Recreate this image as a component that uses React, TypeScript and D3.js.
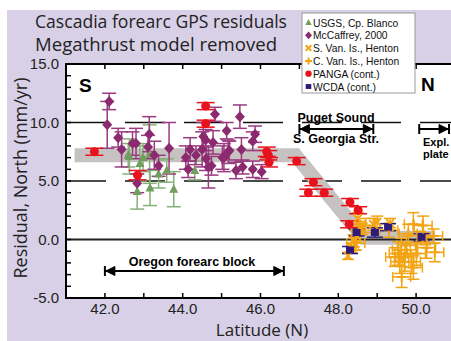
import React from "react";
import { scaleLinear, line, range } from "d3";

// [lat, residual, err]
const usgs = [
  [42.6, 7.2, 1.0], [42.63, 7.1, 1.5], [42.9, 6.5, 1.5], [42.98, 7.0, 1.2],
  [43.15, 7.3, 2.5], [42.83, 4.1, 1.5], [43.16, 4.4, 1.5], [43.38, 5.6, 1.2],
  [43.59, 5.9, 1.0], [43.77, 4.3, 1.5], [44.31, 5.9, 0.8],
];
const mccaffrey = [
  [42.11, 11.8, 0.7], [42.06, 9.8, 2.0], [42.34, 8.7, 0.8], [42.43, 7.7, 1.5],
  [42.71, 8.2, 1.0], [42.8, 8.2, 1.3], [42.83, 4.8, 0.8], [43.14, 9.0, 1.5],
  [43.11, 7.9, 1.0], [43.27, 7.2, 1.2], [43.38, 6.3, 0.9], [43.65, 7.8, 2.2],
  [44.08, 7.0, 1.0], [44.14, 6.0, 0.7], [44.19, 7.7, 1.0], [44.34, 7.2, 0.8],
  [44.5, 7.7, 1.5], [44.53, 8.8, 1.2], [44.59, 8.5, 0.9], [44.6, 6.9, 1.0],
  [44.66, 6.2, 1.8], [44.74, 6.3, 0.8], [44.78, 8.3, 1.0], [44.83, 10.7, 0.6],
  [45.02, 7.0, 1.0], [45.06, 7.0, 1.2], [45.13, 9.3, 0.7], [45.17, 7.5, 1.0],
  [45.2, 7.6, 0.8], [45.37, 5.9, 0.7], [45.47, 10.5, 1.0], [45.51, 7.7, 1.0],
  [45.54, 6.2, 0.6], [45.8, 6.0, 0.7], [45.8, 8.4, 0.8], [45.86, 9.0, 0.7],
  [46.03, 5.8, 0.6],
];
const sVanIs = [
  [48.25, -1.4, 0.3], [48.34, -0.7, 0.4], [48.39, -0.1, 0.5], [48.43, -0.4, 0.5],
  [48.43, 0.6, 0.5], [48.47, 0.3, 0.4], [48.5, 1.8, 0.5], [48.56, 1.05, 0.5],
  [48.6, 0.9, 0.5], [48.9, 1.3, 0.5], [49.0, 1.5, 0.5], [49.33, 1.4, 0.4],
  [50.1, 0.2, 0.5], [50.23, 0.05, 0.5],
];
const cVanIs = [
  [48.45, -0.3, 0.6], [48.7, 1.2, 0.6], [49.3, 0.8, 0.6], [49.45, -1.5, 0.8],
  [49.54, -1.2, 1.0], [49.58, -1.9, 1.0], [49.62, -0.9, 1.0], [49.63, -3.2, 0.9],
  [49.71, -1.5, 1.2], [49.75, -0.5, 0.8], [49.8, 0.5, 0.8], [49.88, -1.9, 1.0],
  [49.93, 1.3, 1.0], [49.93, -2.4, 1.0], [50.01, -1.2, 1.0], [50.18, 1.2, 0.8],
  [50.27, -0.7, 0.9], [50.45, 0.3, 0.6], [50.48, -1.1, 0.8],
];
const panga = [
  [41.73, 7.5, 0.3], [42.84, 5.5, 0.4], [44.59, 11.4, 0.3], [44.59, 9.9, 0.3],
  [46.16, 7.5, 0.4], [46.2, 7.2, 0.4], [46.22, 6.6, 0.4], [46.93, 6.7, 0.3],
  [47.23, 4.0, 0.3], [47.36, 4.9, 0.3], [47.64, 4.0, 0.3], [48.3, 3.2, 0.3],
  [48.51, 2.5, 0.3], [48.28, 1.3, 0.3],
];
const wcda = [
  [48.3, -0.9, 0.3], [48.47, 0.6, 0.3], [48.94, 0.6, 0.4], [49.28, 1.05, 0.3],
  [50.14, 0.2, 0.3],
];
// block-motion trend band
const band = [[41.22, 7.2], [46.9, 7.2], [48.65, 0.15], [50.48, 0.15]];

const xTicks = [42, 44, 46, 48, 50];
const yTicks = [15, 10, 5, 0, -5];
const legendItems = [
  "USGS, Cp. Blanco", "McCaffrey, 2000", "S. Van. Is., Henton",
  "C. Van. Is., Henton", "PANGA (cont.)", "WCDA (cont.)",
];

const W = 451, H = 341;
const L = 66, T = 64, B = 298, R = 455;
const x = scaleLinear().domain([41, 51]).range([L, R]);
const y = scaleLinear().domain([-5, 15]).range([B, T]);

const purple = "#8c2a70", green = "#6f9e5f", orange = "#f2a413", red = "#e8121c", navy = "#2e1a78";
const font = "Arial, 'Liberation Sans', sans-serif";
const titleFont = "'Open Sans', sans-serif";

function ErrBar({ d, color, cap = 7, w = 1.5, xErr = 0 }: any) {
  const cx = x(d[0]), cy = y(d[1]), y0 = y(d[1] - d[2]), y1 = y(d[1] + d[2]);
  return (
    <g stroke={color} strokeWidth={w} fill="none">
      <line x1={cx} x2={cx} y1={y0} y2={y1} />
      <line x1={cx - cap} x2={cx + cap} y1={y0} y2={y0} />
      <line x1={cx - cap} x2={cx + cap} y1={y1} y2={y1} />
      {xErr > 0 && (
        <>
          <line x1={cx - xErr} x2={cx + xErr} y1={cy} y2={cy} />
          <line x1={cx - xErr} x2={cx - xErr} y1={cy - 5} y2={cy + 5} />
          <line x1={cx + xErr} x2={cx + xErr} y1={cy - 5} y2={cy + 5} />
        </>
      )}
    </g>
  );
}

function Marker({ kind, cx, cy, s = 1 }: any) {
  if (kind === "tri")
    return <path d={`M${cx},${cy - 5 * s}L${cx + 4.5 * s},${cy + 3.5 * s}L${cx - 4.5 * s},${cy + 3.5 * s}Z`} fill={green} />;
  if (kind === "dia")
    return <path d={`M${cx},${cy - 5.5 * s}L${cx + 5 * s},${cy}L${cx},${cy + 5.5 * s}L${cx - 5 * s},${cy}Z`} fill={purple} />;
  if (kind === "x")
    return <path d={`M${cx - 4 * s},${cy - 4 * s}L${cx + 4 * s},${cy + 4 * s}M${cx - 4 * s},${cy + 4 * s}L${cx + 4 * s},${cy - 4 * s}`} stroke={orange} strokeWidth={2} />;
  if (kind === "plus")
    return <path d={`M${cx - 5 * s},${cy}L${cx + 5 * s},${cy}M${cx},${cy - 5 * s}L${cx},${cy + 5 * s}`} stroke={orange} strokeWidth={2} />;
  if (kind === "circ") return <circle cx={cx} cy={cy} r={4.5 * s} fill={red} />;
  return <rect x={cx - 4 * s} y={cy - 3.5 * s} width={8 * s} height={7 * s} fill={navy} />;
}

function Arrow({ x1, x2, yy, left = true, right = true }: any) {
  return (
    <g stroke="#000" strokeWidth={2} fill="#000">
      <line x1={x1} x2={x2} y1={yy} y2={yy} />
      <line x1={x1} x2={x1} y1={yy - 5} y2={yy + 5} />
      {right && <line x1={x2} x2={x2} y1={yy - 5} y2={yy + 5} />}
      {left && <path d={`M${x1 + 1},${yy}L${x1 + 10},${yy - 4.5}L${x1 + 10},${yy + 4.5}Z`} strokeWidth={1} />}
      {right && <path d={`M${x2 - 1},${yy}L${x2 - 10},${yy - 4.5}L${x2 - 10},${yy + 4.5}Z`} strokeWidth={1} />}
    </g>
  );
}

export default function App() {
  const bandPath = line()(band.map((d) => [x(d[0]), y(d[1])]) as any) || "";
  const legendKinds = ["tri", "dia", "x", "plus", "circ", "sq"];
  return (
    <svg width={W} height={H} style={{ position: "absolute", left: 0, top: 0 }} fontFamily={font}>
      <defs>
        <clipPath id="plot"><rect x={L} y={T} width={W - L} height={B - T} /></clipPath>
      </defs>
      <rect width={W} height={H} fill="#fff" />
      <rect x={7} y={10} width={W - 7} height={H - 10} fill="#d8d0e6" />
      <rect x={L} y={T} width={W - L} height={B - T} fill="#fff" />

      <text x={35} y={28} fontSize={18.5} fontFamily={titleFont} fill="#222" textLength={252} lengthAdjust="spacingAndGlyphs">Cascadia forearc GPS residuals</text>
      <text x={35} y={51} fontSize={18.5} fontFamily={titleFont} fill="#222" textLength={242} lengthAdjust="spacingAndGlyphs">Megathrust model removed</text>

      <g clipPath="url(#plot)">
        {[10, 5].map((v) => (
          <line key={v} x1={L} x2={W} y1={y(v)} y2={y(v)} stroke="#111" strokeWidth={1.5} strokeDasharray="40 19" />
        ))}
        <path d={bandPath} fill="none" stroke="#c6c2c2" strokeWidth={14} strokeLinejoin="miter" />
        <line x1={L} x2={W} y1={y(0)} y2={y(0)} stroke="#222" strokeWidth={2} />

        {usgs.map((d, i) => <ErrBar key={"ug" + i} d={d} color="#86b078" />)}
        {mccaffrey.map((d, i) => <ErrBar key={"mc" + i} d={d} color="#9a3a80" />)}
        {sVanIs.map((d, i) => <ErrBar key={"sv" + i} d={d} color={orange} cap={6} />)}
        {cVanIs.map((d, i) => <ErrBar key={"cv" + i} d={d} color={orange} cap={6} xErr={9} />)}
        {panga.map((d, i) => <ErrBar key={"pg" + i} d={d} color={red} cap={9} />)}
        {wcda.map((d, i) => <ErrBar key={"wc" + i} d={d} color={navy} cap={8} />)}

        {usgs.map((d, i) => <Marker key={"um" + i} kind="tri" cx={x(d[0])} cy={y(d[1])} />)}
        {mccaffrey.map((d, i) => <Marker key={"mm" + i} kind="dia" cx={x(d[0])} cy={y(d[1])} />)}
        {sVanIs.map((d, i) => <Marker key={"sm" + i} kind="x" cx={x(d[0])} cy={y(d[1])} />)}
        {cVanIs.map((d, i) => <Marker key={"cm" + i} kind="plus" cx={x(d[0])} cy={y(d[1])} />)}
        {panga.map((d, i) => <Marker key={"pm" + i} kind="circ" cx={x(d[0])} cy={y(d[1])} />)}
        {wcda.map((d, i) => <Marker key={"wm" + i} kind="sq" cx={x(d[0])} cy={y(d[1])} />)}

        {range(42, 51).map((v) => (
          <g key={"xt" + v} stroke="#000" strokeWidth={1.5}>
            <line x1={x(v)} x2={x(v)} y1={T} y2={T + 5} />
            <line x1={x(v)} x2={x(v)} y1={B} y2={B - 5} />
          </g>
        ))}
        {range(-4, 15).map((v) => (
          <line key={"yt" + v} x1={L} x2={L + 5} y1={y(v)} y2={y(v)} stroke="#000" strokeWidth={1.5} />
        ))}
      </g>

      <line x1={L} x2={L} y1={T - 1} y2={B + 1} stroke="#000" strokeWidth={2} />
      <line x1={L} x2={W} y1={T} y2={T} stroke="#000" strokeWidth={2} />
      <line x1={L} x2={W} y1={B} y2={B} stroke="#000" strokeWidth={2} />

      {yTicks.map((v) => (
        <text key={"yl" + v} x={59} y={y(v) + 5} textAnchor="end" fontSize={15} fill="#222">{v.toFixed(1)}</text>
      ))}
      {xTicks.map((v) => (
        <text key={"xl" + v} x={x(v)} y={314} textAnchor="middle" fontSize={15} fill="#222">{v.toFixed(1)}</text>
      ))}
      <text x={262} y={336} textAnchor="middle" fontSize={17} fontFamily={titleFont} fill="#222">Latitude (N)</text>
      <text transform={`translate(27,178) rotate(-90)`} textAnchor="middle" fontSize={18} fontFamily={titleFont} fill="#222">Residual, North (mm/yr)</text>

      <text x={79} y={92} fontSize={19} fontWeight="bold">S</text>
      <text x={421} y={91} fontSize={19} fontWeight="bold">N</text>

      <text x={336} y={122} textAnchor="middle" fontSize={12.5} fontWeight="bold">Puget Sound</text>
      <Arrow x1={x(47.0)} x2={x(48.9)} yy={129} />
      <text x={336} y={143} textAnchor="middle" fontSize={12.5} fontWeight="bold">S. Georgia Str.</text>
      <Arrow x1={x(50.08)} x2={449} yy={129} left={false} right={true} />
      <text x={423} y={146} fontSize={11} fontWeight="bold">Expl.</text>
      <text x={423} y={158} fontSize={11} fontWeight="bold">plate</text>

      <text x={192} y={266} textAnchor="middle" fontSize={12.5} fontWeight="bold">Oregon forearc block</text>
      <Arrow x1={x(42.0)} x2={x(46.6)} yy={271} />

      <g>
        <rect x={302} y={13} width={113} height={80} fill="#fff" stroke="#999" strokeWidth={1} />
        {legendItems.map((t, i) => (
          <g key={t}>
            <Marker kind={legendKinds[i]} cx={308.5} cy={22.5 + i * 12.8} s={0.7} />
            <text x={313} y={26.5 + i * 12.8} fontSize={10.3} fill="#111">{t}</text>
          </g>
        ))}
      </g>
    </svg>
  );
}
